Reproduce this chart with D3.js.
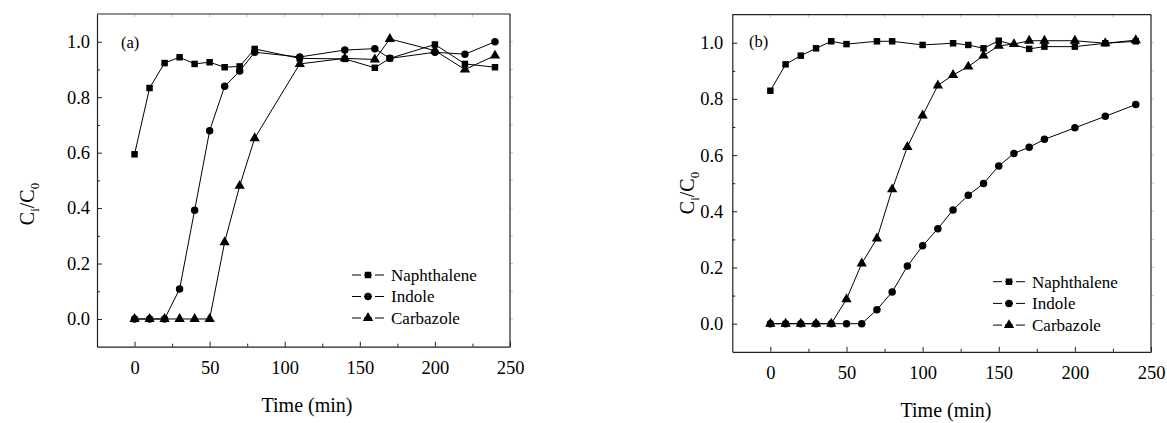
<!DOCTYPE html>
<html>
<head>
<meta charset="utf-8">
<script src="https://cdn.jsdelivr.net/npm/d3@7"></script>
<style>
  body { margin: 0; background: #fff; }
  svg { display: block; }
</style>
</head>
<body>
<svg id="chart" width="1167" height="423"></svg>
<script>
// ---- data, panel (a) ----
const timeA = [0, 10, 20, 30, 40, 50, 60, 70, 80, 110, 140, 160, 170, 200, 220, 240];
const naphA = [0.594, 0.833, 0.923, 0.944, 0.920, 0.926, 0.908, 0.911, 0.974, 0.940, 0.938, 0.906, 0.940, 0.990, 0.920, 0.908];
const indA  = [0, 0, 0, 0.108, 0.392, 0.679, 0.839, 0.894, 0.962, 0.945, 0.970, 0.975, 0.940, 0.962, 0.955, 1.000];
const carbA = [0, 0, 0, 0, 0, 0, 0.277, 0.480, 0.652, 0.920, 0.940, 0.936, 1.010, 0.968, 0.900, 0.950];

// ---- data, panel (b) ----
const timeBNaph = [0, 10, 20, 30, 40, 50, 70, 80, 100, 120, 130, 140, 150, 170, 180, 200, 220, 240];
const naphB = [0.829, 0.923, 0.954, 0.980, 1.005, 0.995, 1.005, 1.005, 0.992, 0.998, 0.992, 0.980, 1.007, 0.978, 0.986, 0.986, 0.998, 1.005];
const timeB = [0, 10, 20, 30, 40, 50, 60, 70, 80, 90, 100, 110, 120, 130, 140, 150, 160, 170, 180, 200, 220, 240];
const indB  = [0, 0, 0, 0, 0, 0, 0, 0.050, 0.113, 0.205, 0.277, 0.338, 0.405, 0.457, 0.499, 0.561, 0.606, 0.628, 0.656, 0.697, 0.738, 0.780];
const carbB = [0, 0, 0, 0, 0, 0.087, 0.214, 0.303, 0.478, 0.629, 0.741, 0.848, 0.885, 0.915, 0.954, 0.989, 0.995, 1.007, 1.007, 1.007, 0.998, 1.009];

const seriesNames = ["Naphthalene", "Indole", "Carbazole"];
const seriesShapes = ["square", "circle", "triangle"];
const xTicks = [0, 50, 100, 150, 200, 250];
const yTicks = [0.0, 0.2, 0.4, 0.6, 0.8, 1.0];
const xDomain = [-25, 250];
const yDomain = [-0.1, 1.1];

const FONT = '"Liberation Serif", "Times New Roman", serif';
const svg = d3.select("#chart");

function symbolFor(shape) {
  if (shape == "square") return d3.symbol().type(d3.symbolSquare).size(42);
  if (shape == "circle") return d3.symbol().type(d3.symbolCircle).size(44);
  return d3.symbol().type(d3.symbolTriangle).size(46);
}

function drawPanel(p) {
  const g = svg.append("g");
  const x = d3.scaleLinear().domain(xDomain).range([p.left, p.right]);
  const y = d3.scaleLinear().domain(yDomain).range([p.bottom, p.top]);

  // faint mirrored ticks on top and right
  const minorX = d3.range(25, 250, 50);
  const minorY = d3.range(0.1, 1.0, 0.2);
  xTicks.concat(minorX).forEach(t => {
    g.append("line").attr("x1", x(t)).attr("x2", x(t))
      .attr("y1", p.top).attr("y2", p.top + 3)
      .attr("stroke", "#c8c8c8").attr("stroke-width", 1);
  });
  yTicks.concat(minorY).forEach(t => {
    g.append("line").attr("x1", p.right).attr("x2", p.right + 3)
      .attr("y1", y(t)).attr("y2", y(t))
      .attr("stroke", "#c8c8c8").attr("stroke-width", 1);
  });

  // frame
  g.append("line").attr("x1", p.left).attr("x2", p.right).attr("y1", p.top).attr("y2", p.top)
    .attr("stroke", "#222").attr("stroke-width", 1.2);
  g.append("line").attr("x1", p.right).attr("x2", p.right).attr("y1", p.top).attr("y2", p.bottom)
    .attr("stroke", "#222").attr("stroke-width", 1.2);

  // bottom axis, ticks pointing inward
  const xAxis = g.append("g").attr("transform", `translate(0,${p.bottom})`)
    .call(d3.axisBottom(x).tickValues(xTicks).tickSizeInner(-5).tickSizeOuter(0).tickPadding(14).tickFormat(d3.format("d")));
  g.append("g").attr("transform", `translate(0,${p.bottom})`)
    .call(d3.axisBottom(x).tickValues(minorX).tickSizeInner(-3).tickSizeOuter(0).tickFormat(""))
    .select(".domain").remove();
  xAxis.selectAll("text").style("font-size", "18.5px");

  // left axis
  const yAxis = g.append("g").attr("transform", `translate(${p.left},0)`)
    .call(d3.axisLeft(y).tickValues(yTicks).tickSizeInner(-5).tickSizeOuter(0).tickPadding(p.yPad).tickFormat(d3.format(".1f")));
  g.append("g").attr("transform", `translate(${p.left},0)`)
    .call(d3.axisLeft(y).tickValues(minorY).tickSizeInner(-3).tickSizeOuter(0).tickFormat(""))
    .select(".domain").remove();
  yAxis.selectAll("text").style("font-size", "18.5px");

  g.selectAll(".domain").attr("stroke", "#222").attr("stroke-width", 1.2);
  g.selectAll(".tick line").attr("stroke", "#222");

  // series
  const line = d3.line().x(d => x(d[0])).y(d => y(d[1]));
  p.series.forEach((s, i) => {
    const pts = s.t.map((t, k) => [t, s.v[k]]);
    g.append("path").datum(pts).attr("d", line)
      .attr("fill", "none").attr("stroke", "#000").attr("stroke-width", 1);
    g.selectAll(null).data(pts).enter().append("path")
      .attr("d", symbolFor(seriesShapes[i]))
      .attr("transform", d => `translate(${x(d[0])},${y(d[1])})`)
      .attr("fill", "#000");
  });

  // legend
  seriesNames.forEach((name, i) => {
    const ly = p.legY + i * p.legGap;
    g.append("line").attr("x1", p.legX).attr("x2", p.legX + 32).attr("y1", ly).attr("y2", ly)
      .attr("stroke", "#000").attr("stroke-width", 1);
    g.append("rect").attr("x", p.legX + 9).attr("y", ly - 1).attr("width", 3).attr("height", 2).attr("fill", "#fff");
    g.append("rect").attr("x", p.legX + 20).attr("y", ly - 1).attr("width", 3).attr("height", 2).attr("fill", "#fff");
    g.append("path").attr("d", symbolFor(seriesShapes[i]))
      .attr("transform", `translate(${p.legX + 16},${ly})`).attr("fill", "#000");
    g.append("text").attr("x", p.legX + 39).attr("y", ly).attr("dy", "0.35em")
      .style("font-size", "17px").text(name);
  });

  // panel label
  g.append("text").attr("x", p.labX).attr("y", p.labY).style("font-size", "16.5px").text(p.label);

  // axis titles
  g.append("text").attr("x", p.xtX).attr("y", p.xtY).attr("text-anchor", "middle")
    .style("font-size", "20px").text("Time (min)");
  const yt = g.append("text")
    .attr("transform", `translate(${p.ytX},${p.ytY}) rotate(-90)`)
    .attr("text-anchor", "middle").style("font-size", "20px");
  yt.append("tspan").text("C");
  yt.append("tspan").attr("dy", 5).style("font-size", "13px").text("i");
  yt.append("tspan").attr("dy", -5).text("/C");
  yt.append("tspan").attr("dy", 5).style("font-size", "13px").text("0");
}

drawPanel({
  left: 97, right: 510, top: 14, bottom: 346.7, yPad: 7,
  series: [{ t: timeA, v: naphA }, { t: timeA, v: indA }, { t: timeA, v: carbA }],
  legX: 352, legY: 275, legGap: 21.5,
  label: "(a)", labX: 121, labY: 48,
  xtX: 307, xtY: 412, ytX: 34, ytY: 204
});

drawPanel({
  left: 732.3, right: 1151, top: 14.6, bottom: 351.8, yPad: 9,
  series: [{ t: timeBNaph, v: naphB }, { t: timeB, v: indB }, { t: timeB, v: carbB }],
  legX: 993, legY: 281.7, legGap: 21.7,
  label: "(b)", labX: 749, labY: 47,
  xtX: 946, xtY: 417, ytX: 694, ytY: 193
});

svg.selectAll("text").style("font-family", FONT).style("fill", "#000");
</script>
</body>
</html>
